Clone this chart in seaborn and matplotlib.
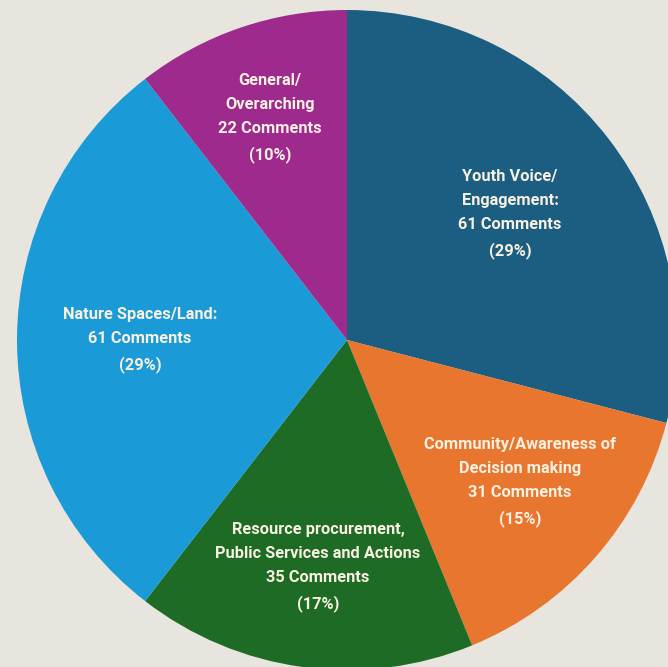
import numpy as np
import matplotlib
matplotlib.use("Agg")
import matplotlib.pyplot as plt
import seaborn as sns

# comment categories, counts and shares (clockwise from 12 o'clock)
categories = ["Youth Voice/\nEngagement:", "Community/Awareness of\nDecision making",
              "Resource procurement,\nPublic Services and Actions", "Nature Spaces/Land:",
              "General/\nOverarching"]
counts = [61, 31, 35, 61, 22]
shares = [29, 15, 17, 29, 10]
colors = ["#1b5e82", "#e8762f", "#1e6b25", "#1a9bd7", "#9e2a8e"]

bg = "#e8e5df"
sns.set_theme(style="white")
plt.rcParams['font.family'] = ['Roboto', 'DejaVu Sans']

fig = plt.figure(figsize=(6.68, 6.67), dpi=100, facecolor=bg)
ax = fig.add_axes([0, 0, 1, 1])
ax.set_facecolor(bg)

# pie centre at pixel (347, 340), radius 330 px
cx, cy, r = 347, 340, 330
ax.pie(counts, colors=colors, startangle=90, counterclock=False, radius=1,
       wedgeprops=dict(linewidth=0))
ax.set_xlim(-cx / r, (668 - cx) / r)
ax.set_ylim(-(667 - cy) / r, cy / r)
ax.set_aspect('auto')
ax.axis('off')

# label centres in pixels
label_px = [(510, 214), (520, 482), (318, 567), (140, 340), (270, 118)]
for (px, py), cat, n, s in zip(label_px, categories, counts, shares):
    txt = f"{cat}\n{n} Comments\n({s}%)"
    ax.text((px - cx) / r, (cy - py) / r, txt, ha='center', va='center',
            color='#f8f0e0', fontsize=11.8, fontweight='bold', linespacing=1.75)

fig.savefig("out.png", dpi=100, facecolor=bg)
